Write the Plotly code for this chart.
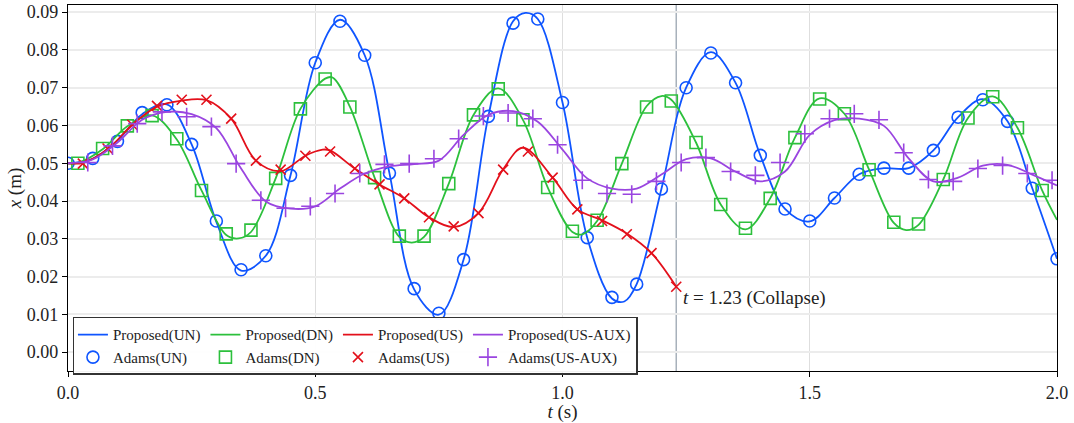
import plotly.graph_objects as go

# ---------------- data ----------------
# Adams(UN) samples
t_un = [0.00, 0.05, 0.10, 0.15, 0.20, 0.25, 0.30, 0.35, 0.40, 0.45, 0.50, 0.55, 0.60, 0.65,
        0.70, 0.75, 0.80, 0.85, 0.90, 0.95, 1.00, 1.05, 1.10, 1.15, 1.20, 1.25, 1.30, 1.35,
        1.40, 1.45, 1.50, 1.55, 1.60, 1.65, 1.70, 1.75, 1.80, 1.85, 1.90, 1.95, 2.00]
x_un = [0.0500, 0.0513, 0.0558, 0.0634, 0.0655, 0.0550, 0.0347, 0.0218, 0.0255, 0.0468,
        0.0766, 0.0876, 0.0786, 0.0474, 0.0168, 0.0103, 0.0245, 0.0624, 0.0871, 0.0882,
        0.0661, 0.0303, 0.0145, 0.0180, 0.0432, 0.0700, 0.0792, 0.0713, 0.0521, 0.0379,
        0.0347, 0.0408, 0.0471, 0.0487, 0.0487, 0.0534, 0.0622, 0.0668, 0.0611, 0.0434,
        0.0247]

# Proposed(UN) curve
tp_un = [0.00, 0.05, 0.10, 0.15, 0.20, 0.25, 0.30, 0.35, 0.40, 0.45, 0.50, 0.55, 0.60, 0.65,
         0.70, 0.75, 0.80, 0.85, 0.90, 0.925, 0.95, 1.00, 1.05, 1.10, 1.125, 1.15, 1.20, 1.25,
         1.30, 1.35, 1.40, 1.45, 1.50, 1.55, 1.60, 1.65, 1.70, 1.75, 1.80, 1.85, 1.90, 1.95,
         2.00]
xp_un = [0.0500, 0.0512, 0.0560, 0.0630, 0.0656, 0.0550, 0.0345, 0.0216, 0.0255, 0.0468,
         0.0766, 0.0880, 0.0786, 0.0474, 0.0166, 0.0099, 0.0245, 0.0624, 0.0876, 0.0898,
         0.0882, 0.0661, 0.0303, 0.0142, 0.0134, 0.0180, 0.0432, 0.0700, 0.0794, 0.0713,
         0.0521, 0.0379, 0.0346, 0.0408, 0.0471, 0.0487, 0.0487, 0.0534, 0.0622, 0.0670,
         0.0611, 0.0434, 0.0247]

# Adams(DN) samples
t_dn = [0.02, 0.07, 0.12, 0.17, 0.22, 0.27, 0.32, 0.37, 0.42, 0.47, 0.52, 0.57, 0.62, 0.67,
        0.72, 0.77, 0.82, 0.87, 0.92, 0.97, 1.02, 1.07, 1.12, 1.17, 1.22, 1.27, 1.32, 1.37,
        1.42, 1.47, 1.52, 1.57, 1.62, 1.67, 1.72, 1.77, 1.82, 1.87, 1.92, 1.97]
x_dn = [0.0500, 0.0539, 0.0599, 0.0626, 0.0565, 0.0428, 0.0313, 0.0323, 0.0460, 0.0644,
        0.0723, 0.0649, 0.0462, 0.0307, 0.0307, 0.0446, 0.0628, 0.0697, 0.0615, 0.0436,
        0.0320, 0.0349, 0.0499, 0.0649, 0.0665, 0.0555, 0.0391, 0.0328, 0.0407, 0.0568,
        0.0670, 0.0631, 0.0483, 0.0344, 0.0339, 0.0457, 0.0620, 0.0676, 0.0594, 0.0428]

# Proposed(DN) curve
tp_dn = [0.00, 0.02, 0.07, 0.12, 0.17, 0.22, 0.27, 0.32, 0.345, 0.37, 0.42, 0.47, 0.52, 0.535,
         0.57, 0.62, 0.67, 0.695, 0.72, 0.77, 0.82, 0.87, 0.92, 0.97, 1.02, 1.04, 1.07, 1.12,
         1.17, 1.20, 1.22, 1.27, 1.32, 1.37, 1.42, 1.47, 1.52, 1.57, 1.62, 1.67, 1.695, 1.72,
         1.77, 1.82, 1.87, 1.92, 1.97, 2.00]
xp_dn = [0.0500, 0.0501, 0.0537, 0.0598, 0.0627, 0.0563, 0.0428, 0.0310, 0.0301, 0.0318,
         0.0460, 0.0644, 0.0724, 0.0727, 0.0650, 0.0462, 0.0305, 0.0290, 0.0305, 0.0446,
         0.0628, 0.0698, 0.0615, 0.0436, 0.0318, 0.0312, 0.0347, 0.0499, 0.0651, 0.0678,
         0.0668, 0.0555, 0.0391, 0.0325, 0.0407, 0.0568, 0.0672, 0.0631, 0.0483, 0.0342,
         0.0323, 0.0337, 0.0457, 0.0620, 0.0677, 0.0594, 0.0428, 0.0350]

# Adams(US) samples
t_us = [0.03, 0.08, 0.13, 0.18, 0.23, 0.28, 0.33, 0.38, 0.43, 0.48, 0.53, 0.58, 0.63, 0.68,
        0.73, 0.78, 0.83, 0.88, 0.93, 0.98, 1.03, 1.08, 1.13, 1.18, 1.23]
x_us = [0.0499, 0.0539, 0.0602, 0.0652, 0.0668, 0.0668, 0.0618, 0.0507, 0.0483, 0.0520,
        0.0531, 0.0486, 0.0444, 0.0407, 0.0357, 0.0333, 0.0368, 0.0483, 0.0531, 0.0462,
        0.0378, 0.0347, 0.0312, 0.0262, 0.0173]

# Proposed(US) curve
tp_us = [0.00, 0.03, 0.08, 0.13, 0.18, 0.23, 0.28, 0.33, 0.38, 0.43, 0.48, 0.515, 0.53, 0.58,
         0.63, 0.68, 0.73, 0.78, 0.83, 0.88, 0.92, 0.98, 1.03, 1.08, 1.13, 1.18, 1.23]
xp_us = [0.0500, 0.0501, 0.0537, 0.0602, 0.0650, 0.0666, 0.0667, 0.0618, 0.0507, 0.0479,
         0.0520, 0.0536, 0.0534, 0.0486, 0.0444, 0.0407, 0.0357, 0.0331, 0.0368, 0.0484,
         0.0541, 0.0462, 0.0378, 0.0349, 0.0314, 0.0262, 0.0173]

# Adams(US-AUX) samples
t_aux = [0.04, 0.09, 0.14, 0.19, 0.24, 0.29, 0.34, 0.39, 0.44, 0.49, 0.54, 0.59, 0.64, 0.69,
         0.74, 0.79, 0.84, 0.89, 0.94, 0.99, 1.04, 1.09, 1.14, 1.19, 1.24, 1.29, 1.34, 1.39,
         1.44, 1.49, 1.54, 1.59, 1.64, 1.69, 1.74, 1.79, 1.84, 1.89, 1.94, 1.99]
x_aux = [0.0502, 0.0546, 0.0605, 0.0636, 0.0623, 0.0597, 0.0499, 0.0402, 0.0381, 0.0386,
         0.0420, 0.0473, 0.0497, 0.0499, 0.0512, 0.0565, 0.0625, 0.0633, 0.0618, 0.0549,
         0.0455, 0.0420, 0.0418, 0.0452, 0.0502, 0.0515, 0.0478, 0.0468, 0.0502, 0.0578,
         0.0618, 0.0631, 0.0615, 0.0528, 0.0457, 0.0452, 0.0486, 0.0494, 0.0473, 0.0455]

# Proposed(US-AUX) curve
tp_aux = [0.00, 0.05, 0.10, 0.15, 0.20, 0.25, 0.30, 0.35, 0.40, 0.45, 0.50, 0.55, 0.60, 0.65,
          0.70, 0.75, 0.80, 0.85, 0.90, 0.95, 1.00, 1.05, 1.10, 1.15, 1.20, 1.25, 1.30, 1.35,
          1.40, 1.45, 1.50, 1.55, 1.60, 1.65, 1.70, 1.75, 1.80, 1.85, 1.90, 1.95, 2.00]
xp_aux = [0.0500, 0.0510, 0.0555, 0.0615, 0.0636, 0.0630, 0.0593, 0.0486, 0.0399, 0.0380,
          0.0386, 0.0433, 0.0473, 0.0492, 0.0498, 0.0507, 0.0575, 0.0628, 0.0638, 0.0610,
          0.0536, 0.0460, 0.0433, 0.0433, 0.0470, 0.0511, 0.0513, 0.0478, 0.0452, 0.0478,
          0.0575, 0.0614, 0.0618, 0.0599, 0.0513, 0.0452, 0.0462, 0.0494, 0.0496, 0.0470,
          0.0441]

collapse_t = 1.23
x_ticks = [0.0, 0.5, 1.0, 1.5, 2.0]
y_ticks = [0.00, 0.01, 0.02, 0.03, 0.04, 0.05, 0.06, 0.07, 0.08, 0.09]

# ---------------- styling ----------------
FONT = "Liberation Serif"
BLUE, GREEN, RED, PURPLE = "#0f55ff", "#2cc03c", "#e3101b", "#9a45e0"

fig = go.Figure()

series = [
    ("UN", BLUE, tp_un, xp_un, t_un, x_un, "circle-open", 12),
    ("DN", GREEN, tp_dn, xp_dn, t_dn, x_dn, "square-open", 12),
    ("US", RED, tp_us, xp_us, t_us, x_us, "x-thin-open", 10),
    ("US-AUX", PURPLE, tp_aux, xp_aux, t_aux, x_aux, "cross-thin-open", 13),
]

for name, col, tp, xp, ta, xa, sym, msz in series:
    fig.add_trace(go.Scatter(
        x=tp, y=xp, mode="lines", name=f"Proposed({name})", legendgroup=name,
        line=dict(color=col, width=1.8, shape="spline", smoothing=1.0)))
    fig.add_trace(go.Scatter(
        x=ta, y=xa, mode="markers", name=f"Adams({name})", legendgroup=name,
        marker=dict(symbol=sym, size=msz, color=col, line=dict(color=col, width=1.6))))

fig.add_vline(x=collapse_t, line=dict(color="#a7b1bb", width=1.5), layer="below")

fig.add_annotation(x=collapse_t, y=0.0144, xref="x", yref="y", xanchor="left", yanchor="middle",
                   xshift=5, showarrow=False, text=f"<i>t</i> = {collapse_t} (Collapse)",
                   font=dict(family=FONT, size=19, color="#222"))

fig.update_layout(
    width=1074, height=423, autosize=False,
    margin=dict(l=68, r=17, t=3, b=52),
    plot_bgcolor="white", paper_bgcolor="white",
    font=dict(family=FONT, size=18, color="#222"),
    showlegend=True,
    legend=dict(orientation="h", x=0.005, y=0.148, xanchor="left", yanchor="top",
                bgcolor="rgba(255,255,255,0.95)", bordercolor="#333", borderwidth=1.5,
                font=dict(family=FONT, size=15, color="#222"), tracegroupgap=0,
                itemwidth=30),
)

fig.update_xaxes(range=[0, 2.0], tickvals=x_ticks, tickformat=".1f",
                 showline=True, linecolor="black", linewidth=1.3, mirror=True,
                 ticks="outside", ticklen=5, tickcolor="black",
                 tickfont=dict(family=FONT, size=18),
                 showgrid=True, gridcolor="#dedede", gridwidth=1, zeroline=False,
                 title=dict(text="<i>t</i> (s)", standoff=4, font=dict(family=FONT, size=19)))
fig.update_yaxes(range=[-0.005, 0.0919], tickvals=y_ticks, tickformat=".2f",
                 showline=True, linecolor="black", linewidth=1.3, mirror=True,
                 ticks="outside", ticklen=5, tickcolor="black",
                 tickfont=dict(family=FONT, size=18),
                 showgrid=True, gridcolor="#ececec", gridwidth=2, zeroline=False,
                 title=dict(text="<i>x</i> (m)", standoff=0, font=dict(family=FONT, size=19)))

fig.write_html("out.html")
